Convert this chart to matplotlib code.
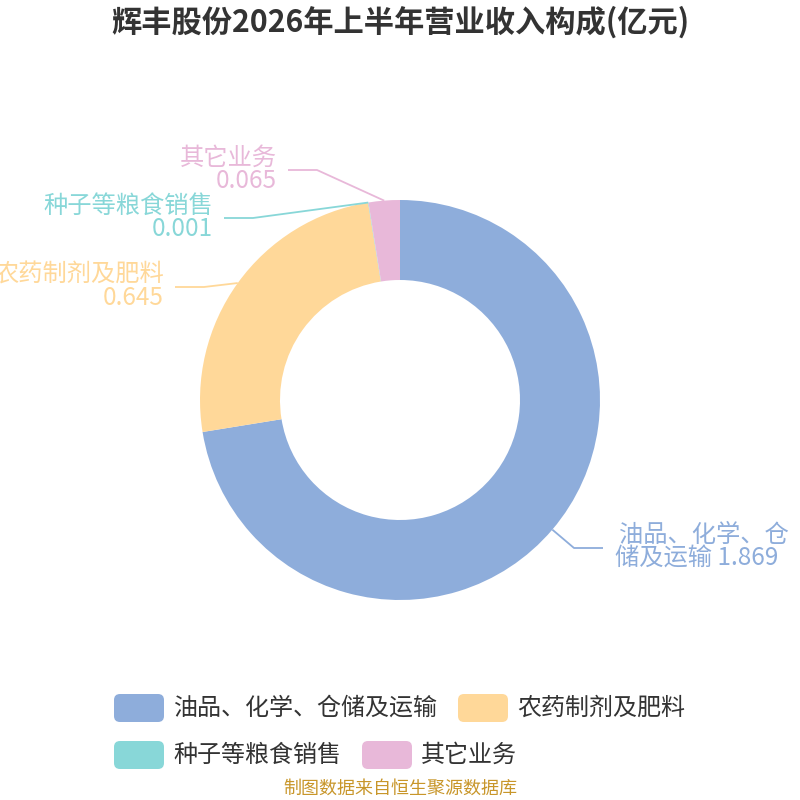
import numpy as np
import matplotlib
matplotlib.use("Agg")
import matplotlib.pyplot as plt
from matplotlib.patches import FancyBboxPatch

plt.rcParams["font.family"] = ["Noto Sans CJK SC", "DejaVu Sans"]

# data
title = "辉丰股份2026年上半年营业收入构成(亿元)"
categories = ["油品、化学、仓储及运输", "农药制剂及肥料", "种子等粮食销售", "其它业务"]
values = [1.869, 0.645, 0.001, 0.065]
value_labels = ["1.869", "0.645", "0.001", "0.065"]
colors = ["#8eaddb", "#ffd899", "#88d7d8", "#e8b8d9"]
source = "制图数据来自恒生聚源数据库"

W = H = 800
fig = plt.figure(figsize=(8, 8), dpi=100)
ax = fig.add_axes([0, 0, 1, 1])
ax.set_xlim(0, W)
ax.set_ylim(0, H)
ax.set_aspect("equal")
ax.axis("off")

cx, cy = 400, 400
r_out, r_in = 200, 120
wedges, _ = ax.pie(values, colors=colors, startangle=90, counterclock=False,
                   radius=r_out, center=(cx, cy),
                   wedgeprops=dict(width=r_out - r_in, linewidth=0))
ax.set_xlim(0, W)
ax.set_ylim(0, H)


def py(y):  # pixel y (top-down) -> axes y
    return H - y


# label layout: (line end x, line y, side), text in pixel coords
layout = [
    (603, 548, 1),
    (175, 287, -1),
    (224, 218, -1),
    (288, 170, -1),
]
elbow_len = 29
lab_fs = 17.5
for w, (ex, ey, side), cat, val, col in zip(wedges, layout, categories,
                                           value_labels, colors):
    mid = np.deg2rad((w.theta1 + w.theta2) / 2)
    sx = cx + r_out * np.cos(mid)
    sy = cy + r_out * np.sin(mid)
    bx = ex - side * elbow_len
    ax.plot([sx, bx, ex], [sy, py(ey), py(ey)], color=col, lw=1.3,
            solid_capstyle="butt")
    if side > 0:
        ax.text(ex + 101, py(ey - 13), "油品、化学、仓", color=col, fontsize=lab_fs,
                ha="center", va="center")
        ax.text(ex + 94, py(ey + 11), "储及运输 " + val, color=col,
                fontsize=lab_fs, ha="center", va="center")
    else:
        ax.text(ex - 11, py(ey - 12), cat, color=col, fontsize=lab_fs,
                ha="right", va="center")
        ax.text(ex - 11, py(ey + 11), val, color=col, fontsize=lab_fs,
                ha="right", va="center")

ax.text(400, py(22), title, fontsize=21.8, fontweight="bold", color="#333333",
        ha="center", va="center")

# legend
legend_pos = [(114, 708), (458, 708), (114, 755), (362, 755)]
for (lx, ly), cat, col in zip(legend_pos, categories, colors):
    ax.add_patch(FancyBboxPatch((lx, py(ly) - 14), 50, 28,
                                boxstyle="round,pad=0,rounding_size=6",
                                fc=col, ec="none"))
    ax.text(lx + 59, py(ly), cat, fontsize=17.3, color="#333333",
            ha="left", va="center")

ax.text(400, py(789), source, fontsize=13, color="#c8962a",
        ha="center", va="center")

fig.savefig("out.png", dpi=100)
